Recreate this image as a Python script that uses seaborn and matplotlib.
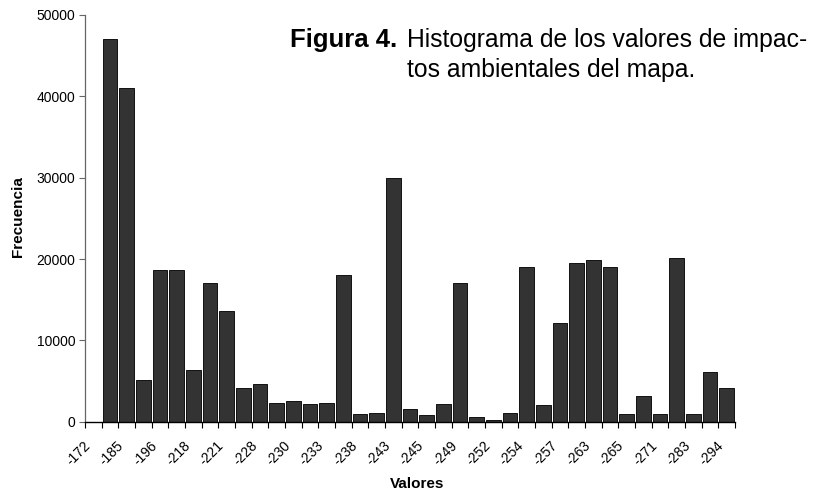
import numpy as np
import pandas as pd
import matplotlib
matplotlib.use("Agg")
import matplotlib.pyplot as plt
import matplotlib.transforms as mtransforms
import seaborn as sns

etiquetas = ['-172', '-185', '-196', '-218', '-221', '-228', '-230', '-233', '-238', '-243',
             '-245', '-249', '-252', '-254', '-257', '-263', '-265', '-271', '-283', '-294']
frecuencias = [0, 47000, 41000, 5100, 18600, 18600, 6300, 17000, 13600, 4100,
               4600, 2250, 2600, 2200, 2250, 18000, 1000, 1100, 30000, 1500,
               800, 2150, 17000, 600, 150, 1100, 19000, 2100, 12100, 19500,
               19900, 19000, 1000, 3100, 1000, 20100, 950, 6100, 4100]
clases = list(range(len(frecuencias)))

df = pd.DataFrame({'clase': clases, 'frecuencia': frecuencias})

sns.set_style('white', {'text.color': 'black', 'axes.labelcolor': 'black',
                        'xtick.color': 'black', 'ytick.color': 'black'})
plt.rcParams['font.family'] = ['Liberation Sans', 'DejaVu Sans']

fig = plt.figure(figsize=(8.19, 4.94), dpi=100)
ax = fig.add_axes([85 / 819, 1 - 421.7 / 494, 650 / 819, 406.7 / 494])

sns.barplot(data=df, x='clase', y='frecuencia', color='#333333', saturation=1,
            width=0.88, edgecolor='#111111', linewidth=0.7, ax=ax)

n = len(frecuencias)
ax.set_yticks(np.arange(0, 50001, 10000))
ax.set_yticklabels([str(v) for v in range(0, 50001, 10000)], fontsize=10)

# etiquetas cada dos clases
ax.set_xticks(np.arange(0, n, 2))
ax.set_xticklabels(etiquetas, rotation=45, ha='right', rotation_mode='anchor', fontsize=10)
ax.set_xticks(np.arange(-0.5, n, 1), minor=True)
ax.tick_params(axis='x', which='major', length=0, pad=12)
ax.tick_params(axis='x', which='minor', length=4, width=0.8, color='black', direction='out', bottom=True)
ax.tick_params(axis='y', length=4, width=0.8, color='#666666', direction='out', left=True, pad=3)
ax.set_xlim(-0.5, n - 0.5)
ax.set_ylim(0, 50000)

for s in ['top', 'right']:
    ax.spines[s].set_visible(False)
ax.spines['left'].set_color('#666666')
ax.spines['left'].set_linewidth(0.9)
ax.spines['bottom'].set_color('black')
ax.spines['bottom'].set_linewidth(1.0)

ax.set_xlabel('Valores', fontsize=11, fontweight='bold')
ax.set_ylabel('Frecuencia', fontsize=11, fontweight='bold')
ax.xaxis.set_label_coords(0.511, -0.136)
ax.yaxis.set_label_coords(-0.093, 0.505)

# corrimiento de las etiquetas hacia la izquierda, como en el original
corrimiento = mtransforms.ScaledTranslation(-10 / 100, 0, fig.dpi_scale_trans)
for lab in ax.get_xticklabels():
    lab.set_transform(lab.get_transform() + corrimiento)

fig.text(397 / 819, 1 - 47 / 494, 'Figura 4.', fontsize=18.5, fontweight='bold', ha='right', va='baseline')
fig.text(407 / 819, 1 - 47 / 494, 'Histograma de los valores de impac-', fontsize=17.8, ha='left', va='baseline')
fig.text(407 / 819, 1 - 77 / 494, 'tos ambientales del mapa.', fontsize=17.8, ha='left', va='baseline')

fig.savefig('out.png', dpi=100)
